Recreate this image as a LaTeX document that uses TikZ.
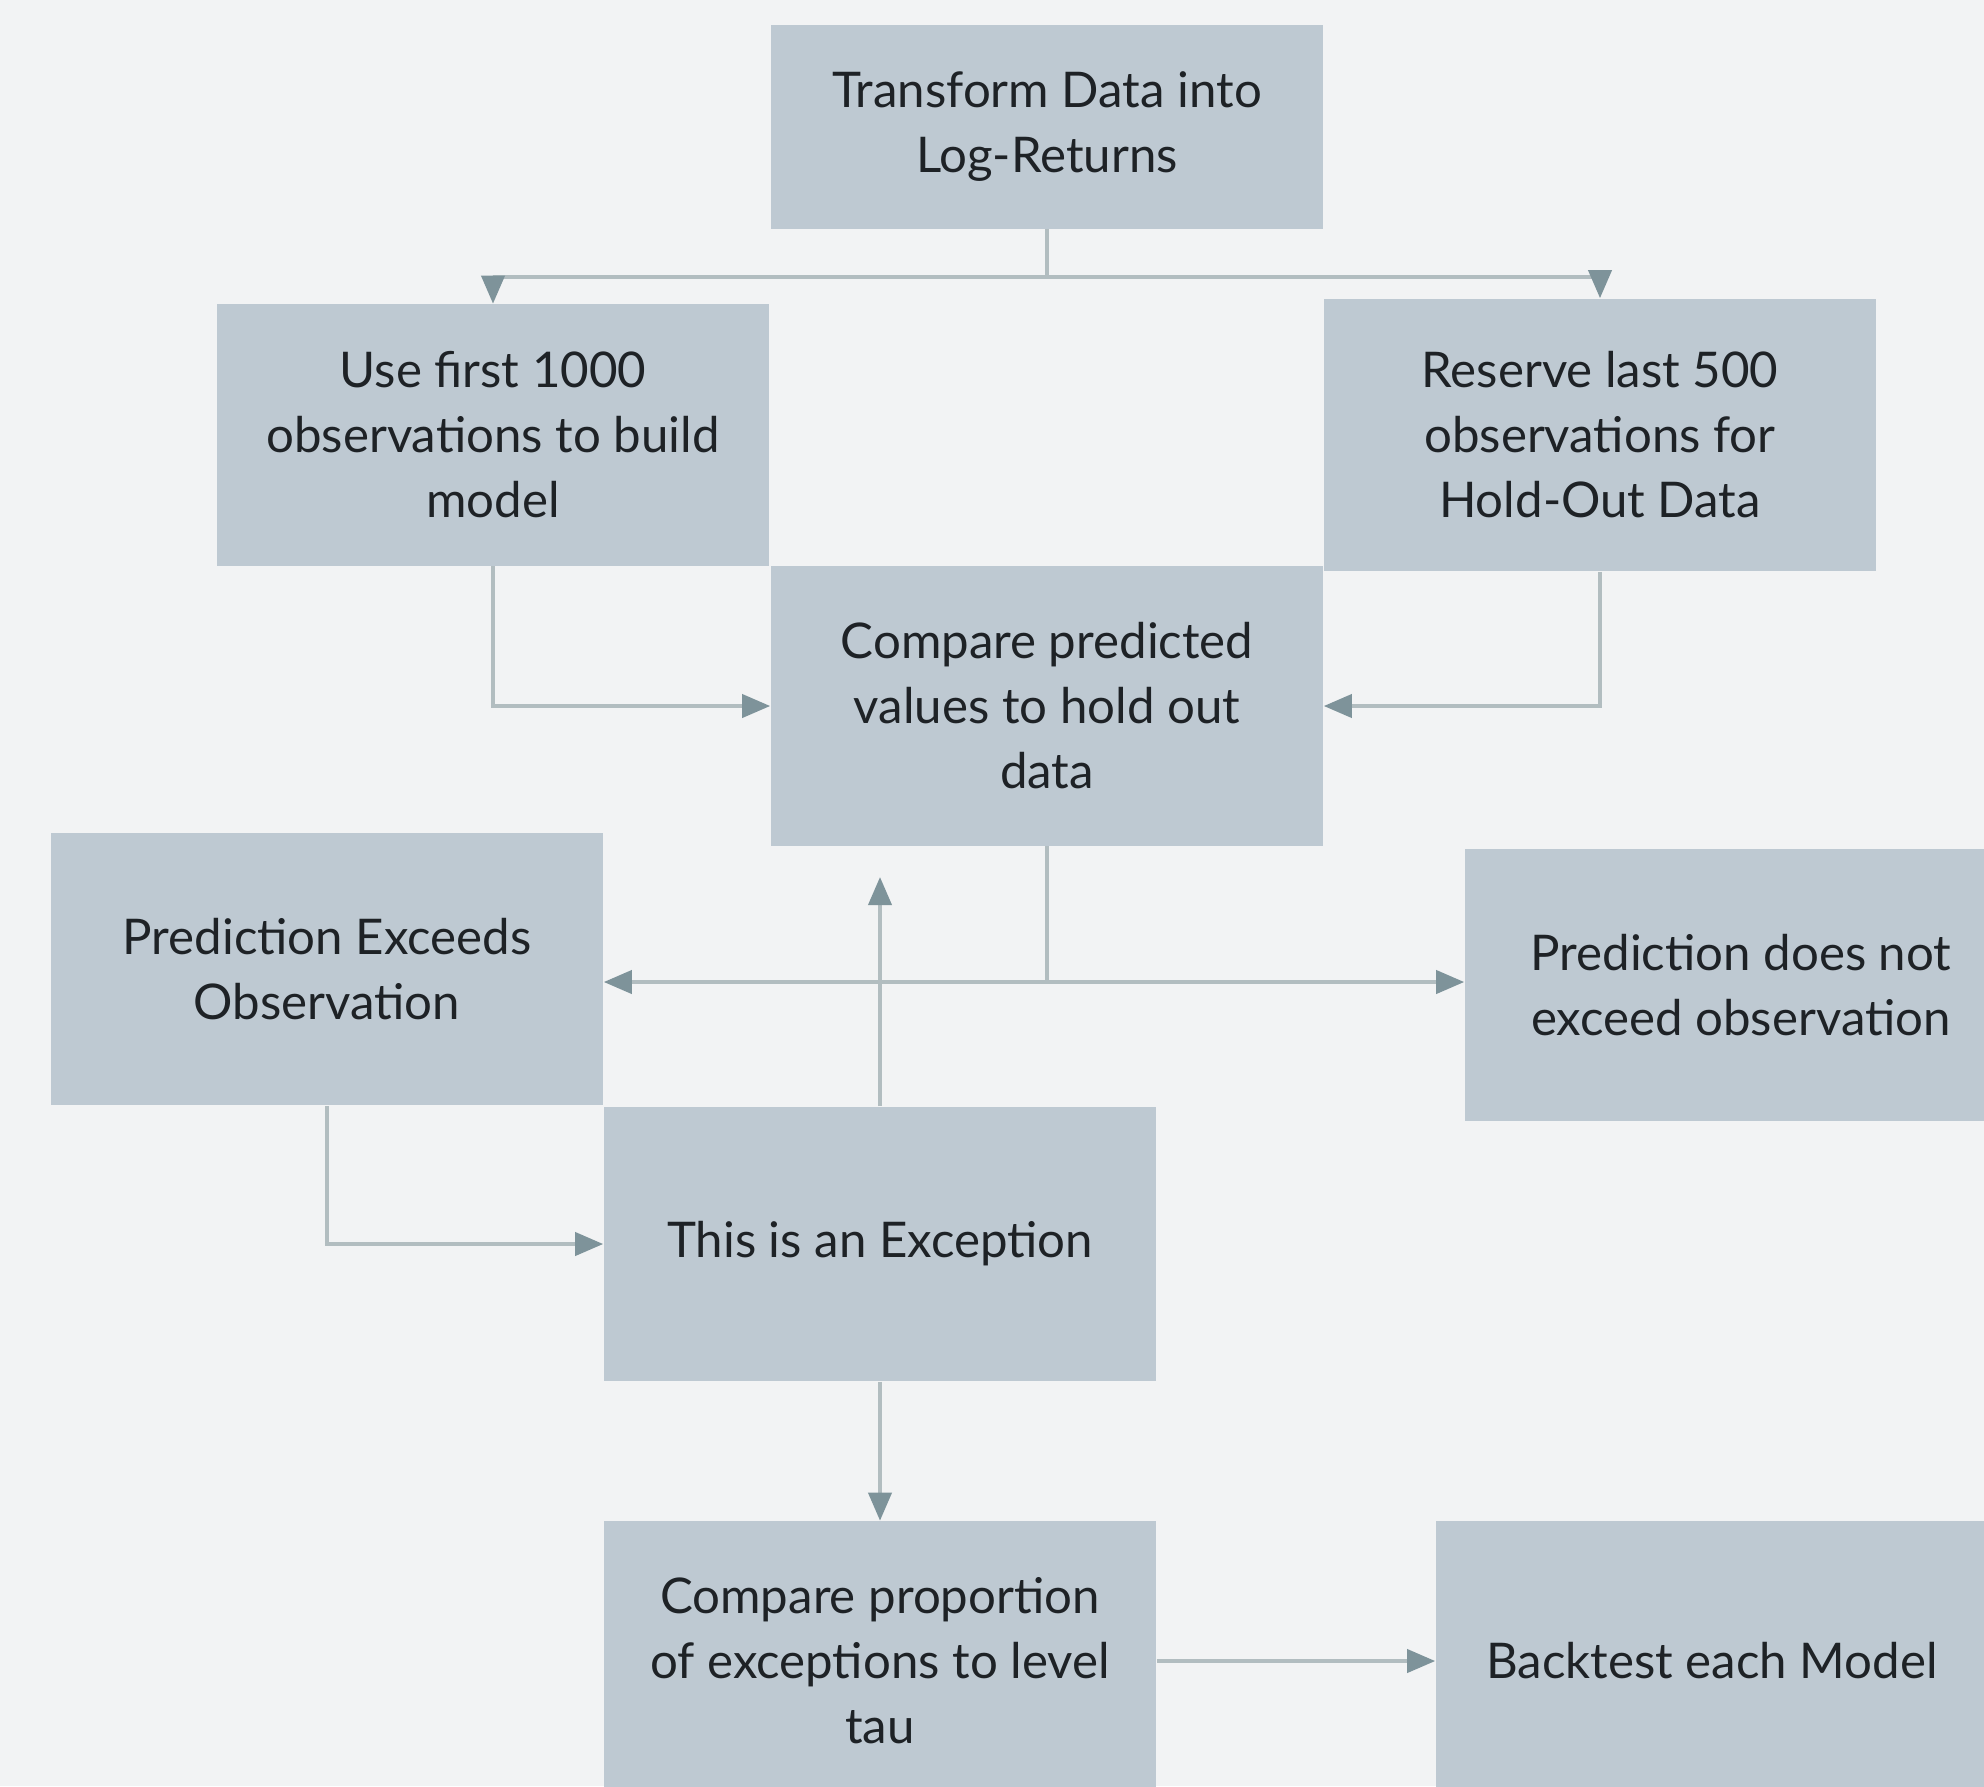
\documentclass[tikz,border=0pt]{standalone}
\usepackage{fontspec}
\setmainfont{Lato}
\usetikzlibrary{arrows.meta}
\definecolor{bg}{HTML}{F2F3F4}
\definecolor{boxc}{HTML}{BEC9D2}
\definecolor{linec}{HTML}{B2BDC0}
\definecolor{tipc}{HTML}{7E939A}
\definecolor{txt}{HTML}{1E2226}
\begin{document}
\begin{tikzpicture}[x=0.02cm,y=-0.02cm,
  box/.style={fill=boxc, draw=none, inner sep=0pt, minimum width=11.06cm, align=center,
    text=txt, font=\fontsize{28}{37}\selectfont},
  plainline/.style={draw=linec, line width=2.2pt},
  conn/.style={plainline, -{Triangle[length=0.56cm,width=0.46cm,color=tipc,fill=tipc]}}]
\useasboundingbox (0,0) rectangle (1984,1786);
\clip (0,0) rectangle (1984,1786);
\fill[bg] (0,0) rectangle (1984,1786);
\node[box, minimum height=4.08cm] (t) at (1047,127) {Transform Data into\\Log-Returns};
\node[box, minimum height=5.24cm] (u) at (493,435) {Use first 1000\\observations to build\\model};
\node[box, minimum height=5.46cm] (r) at (1600,435) {Reserve last 500\\observations for\\Hold-Out Data};
\node[box, minimum height=5.6cm] (c) at (1047,706) {Compare predicted\\values to hold out\\data};
\node[box, minimum height=5.46cm] (pe) at (327,969) {Prediction Exceeds\\Observation};
\node[box, minimum height=5.46cm] (pn) at (1741,985) {Prediction does not\\exceed observation};
\node[box, minimum height=5.5cm] (ex) at (880,1244) {This is an Exception};
\node[box, minimum height=5.6cm] (cp) at (880,1661) {Compare proportion\\of exceptions to level\\tau};
\node[box, minimum height=5.6cm] (bt) at (1712,1661) {Backtest each Model};
\coordinate (j1) at (1047,277);
\draw[plainline] (t.south) -- (j1);
\draw[conn] (j1) -| (u.north);
\draw[conn] (j1) -| (r.north);
\draw[conn] (u.south) |- (c.west);
\draw[conn] (r.south) |- (c.east);
\coordinate (j2) at (1047,982);
\draw[plainline] (c.south) -- (j2);
\draw[conn] (j2) -- (pe.east |- j2);
\draw[conn] (j2) -- (pn.west |- j2);
\coordinate (e1) at (880,877);
\draw[conn] (ex.north) -- (e1);
\draw[conn] (pe.south) |- (ex.west);
\draw[conn] (ex.south) -- (cp.north);
\draw[conn] (cp.east) -- (bt.west);
\end{tikzpicture}
\end{document}
